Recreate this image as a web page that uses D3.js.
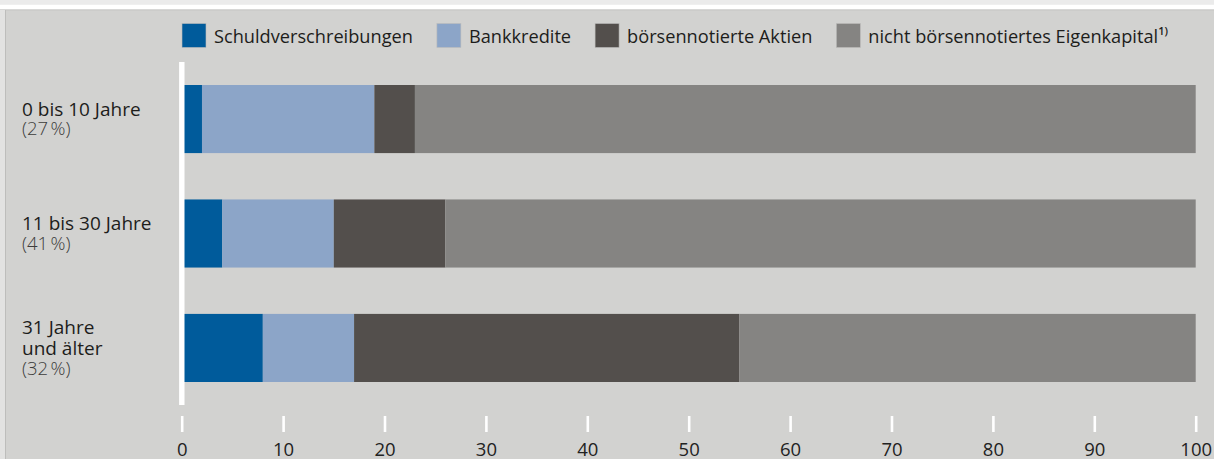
<!DOCTYPE html>
<html lang="de">
<head>
<meta charset="UTF-8"/>
<title>Finanzierungsstruktur nach Unternehmensalter</title>
<script src="https://d3js.org/d3.v7.min.js"></script>
<style>
  * { margin:0; padding:0; box-sizing:border-box }
  body { background:#d2d2d0; font-family:'Open Sans',sans-serif; overflow:hidden; }
  svg text { font-family:'Open Sans',sans-serif; }
</style>
</head>
<body>
<div id="chart"></div>
<script>
// ── data ─────────────────────────────
const categories = [["0 bis 10 Jahre"], ["11 bis 30 Jahre"], ["31 Jahre", "und älter"]];
const shares = ["(27\u202F%)", "(41\u202F%)", "(32\u202F%)"];
const seriesNames = ["Schuldverschreibungen", "Bankkredite", "börsennotierte Aktien", "nicht börsennotiertes Eigenkapital"];
const schuldverschreibungen = [2, 4, 8];
const bankkredite = [17, 11, 9];
const aktien = [4, 11, 38];
const eigenkapital = [77, 74, 45];
const xTicks = [0, 10, 20, 30, 40, 50, 60, 70, 80, 90, 100];

const colors = ["#005b9b", "#8ca5c8", "#534f4c", "#858482"];

// ── setup ────────────────────────────
const width = 1214, height = 459;
const svg = d3.select("#chart").append("svg")
  .attr("width", width).attr("height", height);

// frame bits
svg.append("rect").attr("x", 0).attr("y", 0).attr("width", width).attr("height", 4.5).attr("fill", "#ebebeb");
svg.append("rect").attr("x", 0).attr("y", 4.5).attr("width", width).attr("height", 5).attr("fill", "#fff");
svg.append("rect").attr("x", 0).attr("y", 9.5).attr("width", width).attr("height", 1).attr("fill", "#c6c6c4");
svg.append("rect").attr("x", 0).attr("y", 10).attr("width", 5).attr("height", height).attr("fill", "#e2e2e1");
svg.append("rect").attr("x", 5).attr("y", 10).attr("width", 1).attr("height", height).attr("fill", "#bdbdbb");

const rows = categories.map((c, i) => ({
  i,
  s0: schuldverschreibungen[i], s1: bankkredite[i], s2: aktien[i], s3: eigenkapital[i]
}));
const keys = ["s0", "s1", "s2", "s3"];
const stacked = d3.stack().keys(keys)(rows);

const x = d3.scaleLinear().domain([0, 100]).range([181.7, 1195.7]);
const y = d3.scaleBand().domain(d3.range(categories.length))
  .range([85, 382]).paddingInner(0.405).paddingOuter(0);

// bars
svg.append("g").selectAll("g")
  .data(stacked).join("g")
  .attr("fill", (d, k) => colors[k])
  .selectAll("rect")
  .data(d => d).join("rect")
  .attr("x", d => x(d[0]))
  .attr("y", d => y(d.data.i))
  .attr("width", d => x(d[1]) - x(d[0]))
  .attr("height", y.bandwidth());

// white vertical baseline
svg.append("line")
  .attr("x1", 181.8).attr("x2", 181.8)
  .attr("y1", 62).attr("y2", 405)
  .attr("stroke", "#fff").attr("stroke-width", 5.4);

// x axis
const axis = svg.append("g")
  .attr("transform", "translate(0,416)")
  .call(d3.axisBottom(x).tickValues(xTicks).tickSize(16).tickPadding(11).tickFormat(d3.format("d")));
axis.select(".domain").remove();
axis.selectAll(".tick line").attr("stroke", "#fff").attr("stroke-width", 2.6);
axis.selectAll(".tick text")
  .attr("fill", "#222").attr("font-size", 18.5).attr("font-family", "'Open Sans',sans-serif");

// category labels
const lab = svg.append("g").selectAll("text")
  .data(categories).join("text")
  .attr("x", 22);
lab.each(function(lines, i) {
  const t = d3.select(this);
  const gaps = lines.map((l, j) => j < lines.length - 1 ? 21.5 : 19.5);
  const total = d3.sum(gaps);
  let yy = y(i) + y.bandwidth() / 2 - total / 2 + 6.4;
  lines.forEach((l, j) => {
    t.append("tspan").attr("x", 22).attr("y", yy)
      .attr("font-size", 19).attr("fill", "#1d1d1b").attr("font-weight", 500).text(l);
    yy += gaps[j];
  });
  t.append("tspan").attr("x", 22).attr("y", yy)
    .attr("font-size", 18.5).attr("fill", "#3c3c3b").attr("font-weight", 300).text(shares[i]);
});

// legend
const leg = svg.append("g");
let lx = 182;
seriesNames.forEach((name, k) => {
  leg.append("rect").attr("x", lx).attr("y", 23.5).attr("width", 24).attr("height", 24)
    .attr("fill", colors[k]).attr("stroke", "#bdbdbb").attr("stroke-width", 0.6);
  const t = leg.append("text").attr("x", lx + 32).attr("y", 42.5)
    .attr("font-size", 18.2).attr("fill", "#1d1d1b").text(name);
  if (k === seriesNames.length - 1) {
    t.append("tspan").attr("font-size", 11).attr("dy", -8).attr("font-weight", 600).text("1)");
  }
  lx += 32 + t.node().getComputedTextLength() + 24;
});
</script>
</body>
</html>
